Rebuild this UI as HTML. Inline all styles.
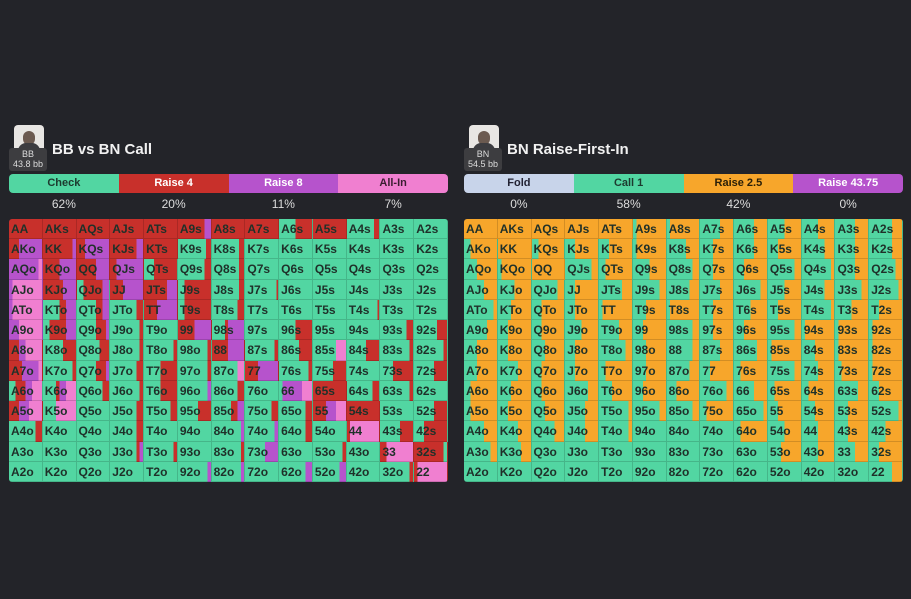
<!DOCTYPE html><html><head><meta charset="utf-8"><style>
body{margin:0;width:911px;height:599px;background:#232429;font-family:"Liberation Sans",sans-serif;position:relative;overflow:hidden}
.av{position:absolute;width:30px;height:28px;background:#e8e6e3;border-radius:4px;overflow:hidden}
.av i{position:absolute;left:9px;top:6px;width:12px;height:14px;border-radius:6px;background:#6b5a50}
.av b{position:absolute;left:4px;top:18px;width:22px;height:12px;border-radius:8px 8px 0 0;background:#3c3c40}
.lb{position:absolute;width:38px;height:22px;background:#3d3d40;border-radius:3px;color:#ddd;font-size:9px;text-align:center;line-height:10px;padding-top:1px}
.tt{position:absolute;color:#f1f1f1;font-size:15px;font-weight:bold}
.bar{position:absolute;height:19px;display:flex;border-radius:4px;overflow:hidden;width:439px}
.bar div{flex:1;text-align:center;font-size:11px;font-weight:bold;line-height:19px}
.pc{position:absolute;display:flex;width:439px;color:#ddd;font-size:12px}
.pc div{flex:1;text-align:center}
.grid{position:absolute;width:439px;height:263px;border-radius:3px;overflow:hidden}
.c{position:absolute;width:33.77px;height:20.23px;box-sizing:border-box;border-right:1px solid rgba(0,0,0,.15);border-bottom:1px solid rgba(0,0,0,.15);font-size:12px;font-weight:bold;color:#1f3029;padding:3px 0 0 2px}
</style></head><body>
<div class="av" style="left:14px;top:125px"><i></i><b></b></div>
<div class="lb" style="left:9px;top:148px">BB<br>43.8 bb</div>
<div class="tt" style="left:52px;top:141px">BB vs BN Call</div>
<div class="bar" style="left:9px;top:174px">
<div style="background:#52d6a2;color:#1d3b2f">Check</div><div style="background:#c8302b;color:#fff">Raise 4</div><div style="background:#b653cc;color:#fff">Raise 8</div><div style="background:#f07fd0;color:#3a1d30">All-In</div></div>
<div class="pc" style="left:9px;top:197px"><div>62%</div><div>20%</div><div>11%</div><div>7%</div></div>
<div class="grid" id="g1" style="left:9px;top:219px"></div>
<div class="av" style="left:469px;top:125px"><i></i><b></b></div>
<div class="lb" style="left:464px;top:148px">BN<br>54.5 bb</div>
<div class="tt" style="left:507px;top:141px">BN Raise-First-In</div>
<div class="bar" style="left:464px;top:174px">
<div style="background:#c8d4ea;color:#223">Fold</div><div style="background:#52d6a2;color:#1d3b2f">Call 1</div><div style="background:#f7a62b;color:#2b2008">Raise 2.5</div><div style="background:#b653cc;color:#fff">Raise 43.75</div></div>
<div class="pc" style="left:464px;top:197px"><div>0%</div><div>58%</div><div>42%</div><div>0%</div></div>
<div class="grid" id="g2" style="left:464px;top:219px"></div>
<script>
var R="AKQJT98765432";
function nm(i,j){if(i==j)return R[i]+R[j];return i<j?R[i]+R[j]+"s":R[j]+R[i]+"o";}
var G="#52d6a2",Rd="#c8302b",P="#b653cc",K="#f07fd0",O="#f7a62b";
var L=[
"r1|r1|r1|r1|r1|r.8p.2|r1|r1|g.5r.5|r1|g.85r.15|g1|g1",
"r.3p.7|r.9p.1|r.25p.75|r.8p.2|r1|g.85r.15|g.85r.15|g1|g1|g1|g1|g1|g1",
"p.9k.1|r.5p.5|r.6p.4|r.2p.8|g.3r.7|g.8r.2|g.85r.15|g1|g1|g1|g1|g1|g1",
"p.1k.9|r.6p.4|g.2r.6p.2|r.4p.6|r.7p.3|g.2r.8|g.85r.15|g.95r.05|g1|g1|g1|g1|g1",
"p.1k.9|g.5r.2p.3|g.6r.2p.2|g.8r.2|r.4p.6|g.2r.8|g.8r.2|g1|g1|g1|g.95r.05|g1|g1",
"p.3k.7|g.2r.5p.3|g.6r.3p.1|g.9r.1|g1|r.5p.5|g.4r.1p.5|g1|g.5r.5|g1|g1|g.8r.2|g.7r.3",
"r.3p.2k.5|g.6r.4|g.7r.3|g.9r.1|g.9r.1|g.9r.1|r.5p.5|g.9r.1|g.6r.4|g.7k.3|g.6r.4|g.9r.1|g.9r.1",
"r.4p.5k.1|g.9r.1|g.6r.3p.1|g.8r.2|g.5r.5|g.9r.1|g.8k.2|r.4p.6|g.9r.1|g.6r.4|g1|g.4r.6|g.6r.4",
"g.2r.3p.2k.3|g.4r.1p.2k.3|g.8r.2|g.9r.1|g.5r.5|g.9p.1|g.8r.2|g1|g.1p.6k.3|r1|g.8r.2|g.9r.1|g1",
"r.3p.3k.4|g.4k.6|g1|g.8r.2|g.8r.2|g.6r.4|g.6r.2p.2|g.8r.2|g.8r.2|r.4p.3k.3|r1|g1|g.6r.4",
"g.8r.2|g1|g1|g.8r.2|g1|g1|g.9p.1|g.9p.1|g.8r.2|g1|r.1k.9|g.6r.4|g.3r.7",
"g1|g1|g1|g.8r.1p.1|g.9r.1|g1|g.9r.1|g.6p.4|g1|g.9r.1|g1|r.2k.8|r.9g.1",
"g1|g1|g1|g1|g1|g.9p.1|g.9p.1|g1|g.8p.2|g.8p.2|g1|g.9r.1|r.1k.9"];
var Rt=[
[0,0,0,0,0,.1,.1,.6,.6,.5,.5,.6,.7],[.2,0,.2,.3,.3,.1,.6,.4,.6,.3,.7,.6,.7],[.4,.1,0,.8,.2,.5,.8,.4,.3,.8,.9,.6,.8],
[.6,.5,.8,.3,.7,.8,.7,.6,.8,.5,.7,.8,.9],[.9,.4,.3,.3,.1,.4,.1,.4,.5,.3,.9,.5,.3],[.7,.3,.3,.5,.6,.3,.8,.4,.3,.8,.1,.1,.1],
[.4,.3,.4,.3,.8,.4,.8,.6,.7,.1,.4,.1,.1],[.4,.6,.3,.3,.2,.4,.7,.3,.2,.8,.5,.2,.1],[.2,.4,.3,.7,.4,.3,.3,.8,.6,.2,.2,.7,.3],
[.2,.3,.4,.6,.9,.8,.8,.2,.9,.3,.4,.4,.9],[.6,.6,.7,.6,.9,1,1,1,.2,.5,.5,.4,.5],[.8,.7,1,1,1,1,1,1,1,.4,.5,.6,.3],[1,1,1,1,1,1,1,1,1,1,1,1,.7]];
var CM={g:G,r:Rd,p:P,k:K};
function grad(segs){var s=[],a=0;segs.forEach(function(x){var b=a+x[1]*100;s.push(x[0]+" "+a+"%",x[0]+" "+b+"%");a=b;});if(a<100)s.push(segs[segs.length-1][0]+" 100%");return "linear-gradient(90deg,"+s.join(",")+")";}
function build(id,f){var g=document.getElementById(id),h="";for(var i=0;i<13;i++)for(var j=0;j<13;j++){h+='<div class="c" style="left:'+(j*33.77)+'px;top:'+(i*20.23)+'px;background:'+f(i,j)+'">'+nm(i,j)+'</div>';}g.innerHTML=h;}
build("g1",function(i,j){var s=L[i].split("|")[j],segs=[],m,re=/([grpk])([\d.]+)/g;while(m=re.exec(s))segs.push([CM[m[1]],parseFloat(m[2])]);return grad(segs);});
build("g2",function(i,j){var v=Rt[i][j];return grad([[G,v],[O,1-v]]);});
</script></body></html>
